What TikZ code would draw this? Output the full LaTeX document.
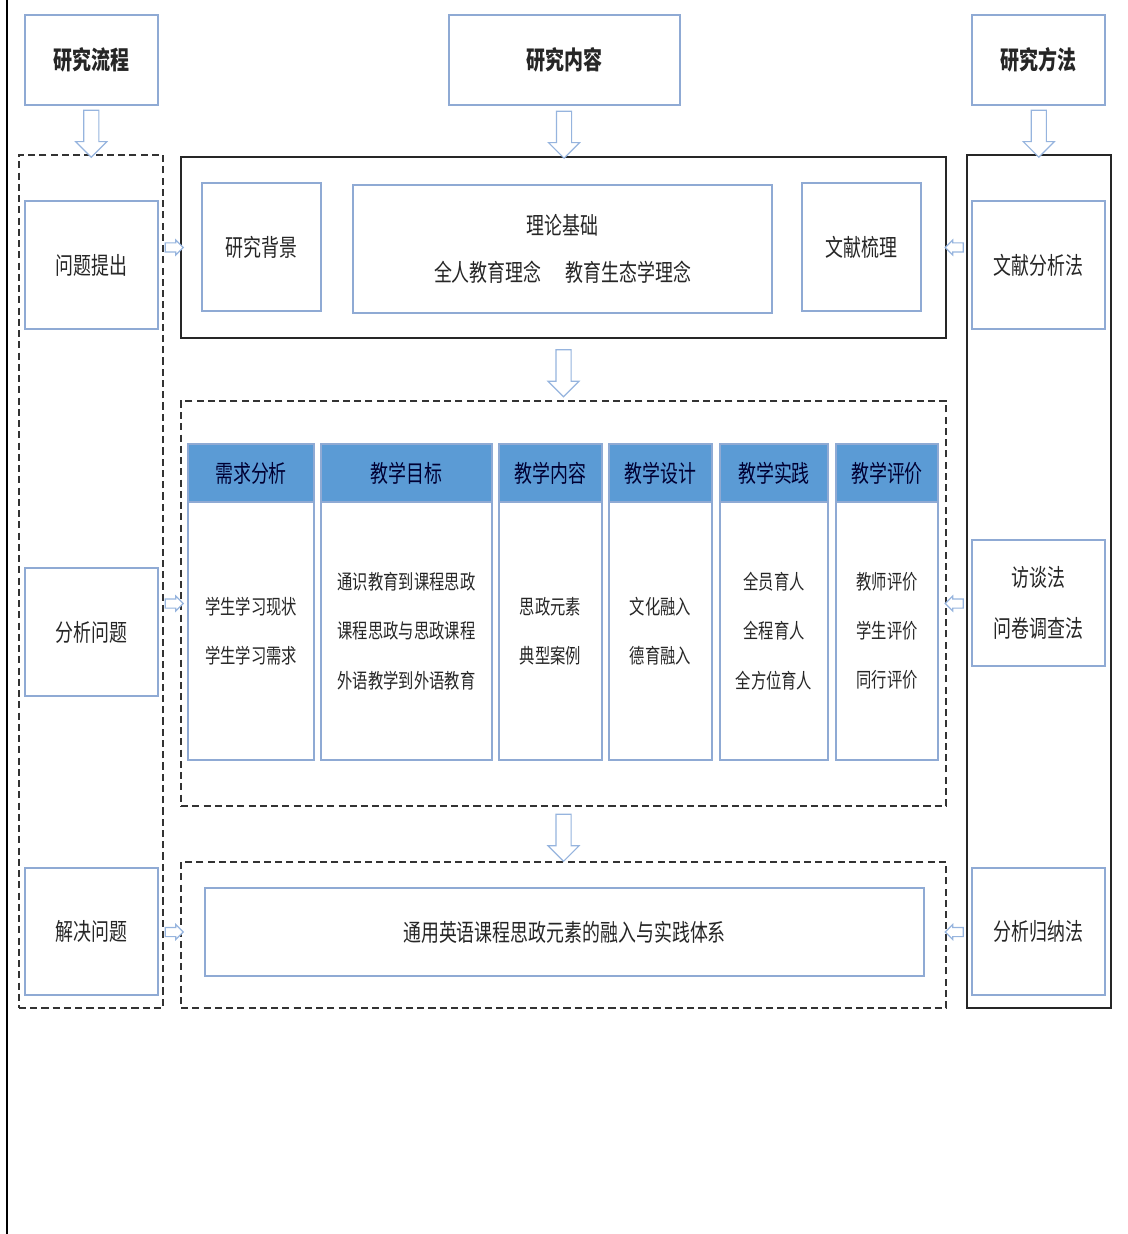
\documentclass[tikz,border=0pt]{standalone}
\usepackage{fontspec}
\setmainfont[FakeStretch=0.75]{Noto Sans CJK SC}
\usetikzlibrary{shapes.arrows}
\definecolor{boxline}{RGB}{143,170,212}
\definecolor{headblue}{RGB}{91,155,213}
\definecolor{arrline}{RGB}{150,180,222}

\begin{document}
\begin{tikzpicture}[x=0.025cm, y=-0.025cm,
	sz/.style 2 args={minimum width=#1*0.025cm, minimum height=#2*0.025cm},
	bluebox/.style={draw=boxline, line width=1pt, fill=white, inner sep=0pt, align=center, text=black!85, font=\fontsize{17}{35}\selectfont},
	cellbox/.style={bluebox, font=\fontsize{14.5}{35}\selectfont},
	titlebox/.style={bluebox, font=\fontsize{18}{20}\selectfont\bfseries},
	headcell/.style={bluebox, fill=headblue, text=black!80!blue},
	solidframe/.style={draw=black!85, line width=1.2pt, inner sep=0pt},
	dashframe/.style={draw=black!80, line width=1.2pt, dash pattern=on 5pt off 3pt, inner sep=0pt},
	downarr/.style={single arrow, draw=arrline, fill=white, line width=0.8pt, shape border rotate=270, minimum height=47*0.025cm, minimum width=30*0.025cm, single arrow head extend=8*0.025cm, inner sep=7*0.025cm},
	sidearr/.style={single arrow, draw=arrline, fill=white, line width=0.8pt, minimum height=18*0.025cm, minimum width=14*0.025cm, single arrow head extend=3*0.025cm, inner sep=4*0.025cm}]
	\useasboundingbox (0,0) rectangle (1128,1234);
	\draw[line width=1pt] (7,0) -- (7,1234);

	\node (hproc) [titlebox, sz={133}{90}] at (91.5, 60) {研究流程};
	\node (hcont) [titlebox, sz={231}{90}] at (564.5, 60) {研究内容};
	\node (hmeth) [titlebox, sz={133}{90}] at (1038.5, 60) {研究方法};

	\node (flow) [dashframe, sz={144}{853}] at (91, 581.5) {};
	\node (meth) [solidframe, sz={144}{853}] at (1039, 581.5) {};
	\node (top) [solidframe, sz={765}{181}] at (563.5, 247.5) {};
	\node (mid) [dashframe, sz={765}{405}] at (563.5, 603.5) {};
	\node (bot) [dashframe, sz={765}{146}] at (563.5, 935) {};

	\node (q1) [bluebox, sz={133}{128}] at (91.5, 265) {问题提出};
	\node (q2) [bluebox, sz={133}{128}] at (91.5, 632) {分析问题};
	\node (q3) [bluebox, sz={133}{127}] at (91.5, 931.5) {解决问题};

	\node (bg) [bluebox, sz={119}{128}] at (261.5, 247) {研究背景};
	\node (th) [bluebox, sz={419}{128}, font=\fontsize{17}{33}\selectfont] at (562.5, 249) {理论基础\\全人教育理念\quad 教育生态学理念};
	\node (lit) [bluebox, sz={119}{128}] at (861.5, 247) {文献梳理};

	\node (h1) [headcell, sz={126}{58}] at (251, 473) {需求分析};
	\node (h2) [headcell, sz={171}{58}] at (406.5, 473) {教学目标};
	\node (h3) [headcell, sz={103}{58}] at (550.5, 473) {教学内容};
	\node (h4) [headcell, sz={103}{58}] at (660.5, 473) {教学设计};
	\node (h5) [headcell, sz={108}{58}] at (774, 473) {教学实践};
	\node (h6) [headcell, sz={102}{58}] at (887, 473) {教学评价};
	\node (b1) [cellbox, sz={126}{258}] at (251, 631) {学生学习现状\\学生学习需求};
	\node (b2) [cellbox, sz={171}{258}] at (406.5, 631) {通识教育到课程思政\\课程思政与思政课程\\外语教学到外语教育};
	\node (b3) [cellbox, sz={103}{258}] at (550.5, 631) {思政元素\\典型案例};
	\node (b4) [cellbox, sz={103}{258}] at (660.5, 631) {文化融入\\德育融入};
	\node (b5) [cellbox, sz={108}{258}] at (774, 631) {全员育人\\全程育人\\全方位育人};
	\node (b6) [cellbox, sz={102}{258}] at (887, 631) {教师评价\\学生评价\\同行评价};

	\node (sys) [bluebox, sz={719}{88}] at (564.5, 932) {通用英语课程思政元素的融入与实践体系};

	\node (m1) [bluebox, sz={133}{128}] at (1038.5, 265) {文献分析法};
	\node (m2) [bluebox, sz={133}{126}, font=\fontsize{17}{36}\selectfont] at (1038.5, 603) {访谈法\\问卷调查法};
	\node (m3) [bluebox, sz={133}{127}] at (1038.5, 931.5) {分析归纳法};

	\path (hproc.south) -- (flow.north) node[midway, downarr] {};
	\path (hcont.south) -- (top.north) node[midway, downarr] {};
	\path (hmeth.south) -- (meth.north) node[midway, downarr] {};
	\path (top.south) -- (mid.north) node[midway, downarr] {};
	\path (mid.south) -- (bot.north) node[midway, downarr] {};

	\path (flow.east |- top.west) -- (top.west) node[midway, sidearr] {};
	\path (flow.east |- mid.west) -- (mid.west) node[midway, sidearr] {};
	\path (flow.east |- sys.west) -- (bot.west |- sys.west) node[midway, sidearr] {};
	\path (top.east) -- (meth.west |- top.east) node[midway, sidearr, shape border rotate=180] {};
	\path (mid.east) -- (meth.west |- mid.east) node[midway, sidearr, shape border rotate=180] {};
	\path (bot.east |- sys.east) -- (meth.west |- sys.east) node[midway, sidearr, shape border rotate=180] {};
\end{tikzpicture}
\end{document}
